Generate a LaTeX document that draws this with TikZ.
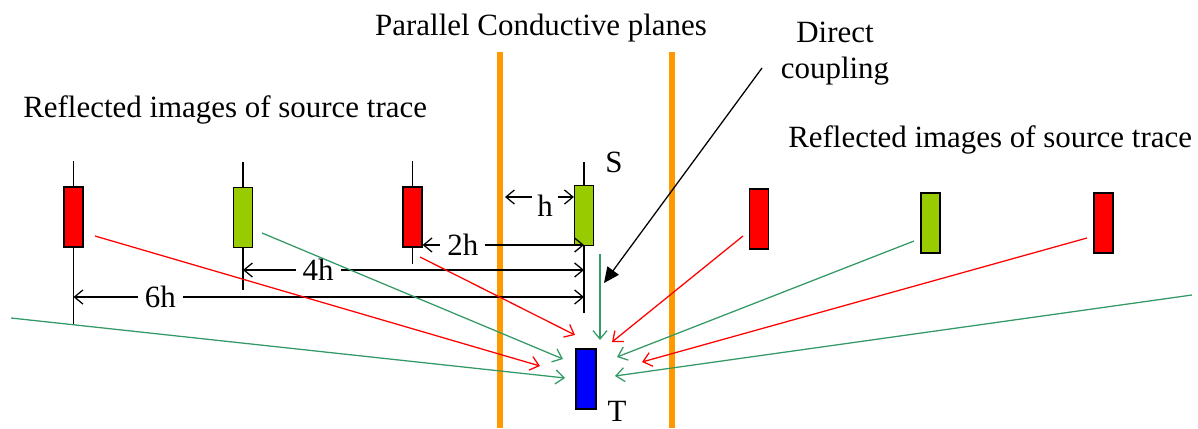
\documentclass[tikz,border=0pt]{standalone}
\usepackage{fontspec}
\setmainfont{Liberation Serif}
\usetikzlibrary{arrows.meta}

\definecolor{imgred}{RGB}{255,0,0}
\definecolor{imggreen}{RGB}{153,204,0}
\definecolor{raygreen}{RGB}{51,153,102}
\definecolor{planeorange}{RGB}{255,153,0}

\begin{document}
\begin{tikzpicture}[x=0.025cm,y=-0.025cm,
  trace/.style={draw,line width=1pt,minimum width=0.47cm,minimum height=1.5cm,inner sep=0pt},
  lbl/.style={font=\fontsize{22}{25}\selectfont,inner sep=0pt},
  dim/.style={{Straight Barb[length=6pt,width=10pt]}-{Straight Barb[length=6pt,width=10pt]},line width=0.9pt},
  ray/.style={-{Straight Barb[length=6pt,width=10pt]},line width=0.9pt},
  plane/.style={planeorange,line width=3.8pt}]
\useasboundingbox (0,0) rectangle (1198,428);

% conductive planes
\draw[plane] (500,52) -- (500,428);
\draw[plane] (672,52) -- (672,428);

% traces: images, source and target
\node[trace,fill=imgred] (img1) at (73.5,217) {};
\node[trace,fill=imggreen] (img2) at (243,217.5) {};
\node[trace,fill=imgred] (img3) at (412.5,217) {};
\node[trace,fill=imggreen] (S) at (584,215.5) {};
\node[trace,fill=blue,minimum width=0.5cm] (T) at (586,379) {};
\node[trace,fill=imgred] (img4) at (759,219) {};
\node[trace,fill=imggreen] (img5) at (930.5,223) {};
\node[trace,fill=imgred] (img6) at (1103.5,223) {};

% leads
\draw[line width=0.9pt] (img1.north) -- ++(0,-25) (img1.south) -- ++(0,76);
\draw[line width=0.9pt] (img2.north) -- ++(0,-25) (img2.south) -- ++(0,42);
\draw[line width=0.9pt] (img3.north) -- ++(0,-25) (img3.south) -- ++(0,16);
\draw[line width=0.9pt] (S.north) -- ++(0,-23) (S.south) -- ++(0,67);

% spacing
\coordinate (rowh) at (0,197);
\coordinate (row2) at (0,245);
\coordinate (row4) at (0,270);
\coordinate (row6) at (0,297);
\coordinate (pl) at (505,197);
\draw[dim] (pl) -- (S.west |- rowh);
\node[lbl,fill=white,inner xsep=4pt,inner ysep=1pt] (hlbl) at (545,206) {h};
\draw[dim] (img3.east |- row2) -- node[lbl,fill=white,inner xsep=5pt,pos=0.25] (lbl2) {2h} (S |- row2);
\draw[dim] (img2 |- row4) -- node[lbl,fill=white,inner xsep=5pt,pos=0.22] (lbl4) {4h} (S |- row4);
\draw[dim] (img1 |- row6) -- node[lbl,fill=white,inner xsep=5pt,pos=0.17] (lbl6) {6h} (S |- row6);

% coupling paths to the target
\coordinate (farleft) at (11,318);
\coordinate (farright) at (1192,295);
\draw[ray,imgred] ([shift={(21.5,19)}]img1.center) -- ([shift={(-46,-13)}]T.center);
\draw[ray,raygreen] ([shift={(19,15.5)}]img2.center) -- ([shift={(-23,-20)}]T.center);
\draw[ray,imgred] ([shift={(7.5,40)}]img3.center) -- ([shift={(-11,-44)}]T.center);
\draw[ray,raygreen] (farleft) -- ([shift={(-21,-1)}]T.center);
\draw[ray,raygreen] ([shift={(16,38.5)}]S.center) -- ([shift={(14,-39)}]T.center);
\draw[ray,imgred] ([shift={(-16,17)}]img4.center) -- ([shift={(26,-37)}]T.center);
\draw[ray,raygreen] ([shift={(-16.5,18)}]img5.center) -- ([shift={(31,-22)}]T.center);
\draw[ray,imgred] ([shift={(-16.5,15)}]img6.center) -- ([shift={(56,-17)}]T.center);
\draw[ray,raygreen] (farright) -- ([shift={(29,-3)}]T.center);

% labels
\node[lbl,anchor=base] (planes) at (541,35) {Parallel Conductive planes};
\node[lbl,anchor=base west] (reflL) at (23,117) {Reflected images of source trace};
\node[lbl,anchor=base west] (reflR) at (788,147) {Reflected images of source trace};
\node[lbl,align=center,anchor=base] (dc) at (835,78) {Direct\\coupling};
\node[lbl,anchor=base] (Slbl) at (614,172) {S};
\node[lbl,anchor=base] (Tlbl) at (617,421) {T};
\coordinate (dcstart) at (762,68);
\draw[line width=0.9pt,-{Triangle[length=11pt,width=10pt]}] (dcstart) -- ([shift={(20,67.5)}]S.center);
\end{tikzpicture}
\end{document}
